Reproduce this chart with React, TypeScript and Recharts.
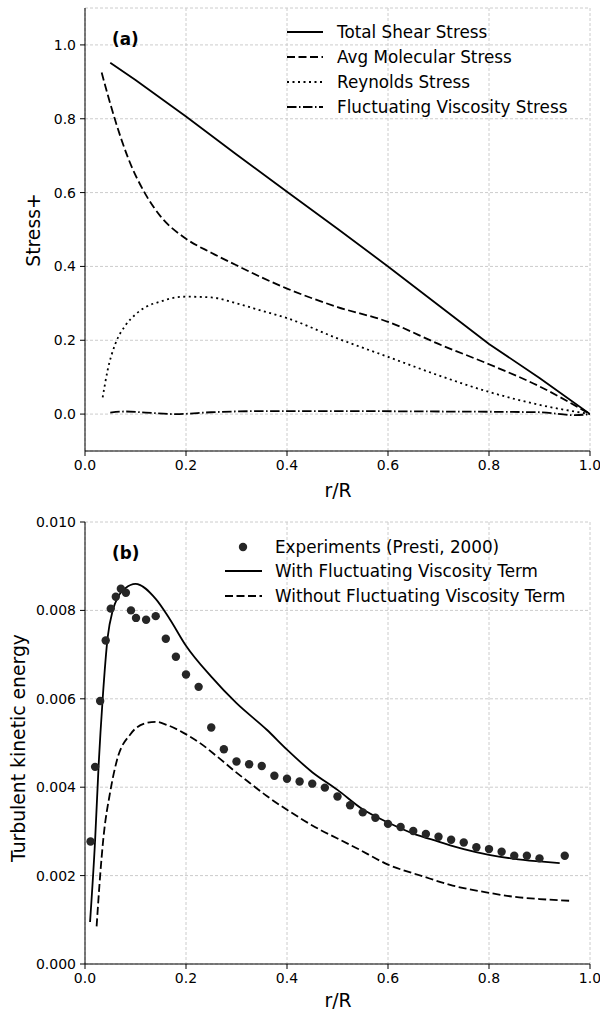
import React from 'react';
import { ComposedChart, Line, Scatter, XAxis, YAxis, CartesianGrid, Legend } from 'recharts';

const FONT = '"DejaVu Sans", sans-serif';

// panel (a): stress profiles
const shearR = [0.05, 0.1, 0.2, 0.3, 0.4, 0.5, 0.6, 0.7, 0.8, 0.9, 1.0];
const shearVals = [0.952, 0.905, 0.806, 0.703, 0.602, 0.502, 0.4, 0.295, 0.19, 0.098, 0.0];

const molR = [0.033, 0.045, 0.06, 0.085, 0.12, 0.15, 0.2, 0.25, 0.3, 0.35, 0.4, 0.5, 0.6, 0.7, 0.8, 0.9, 1.0];
const molVals = [0.925, 0.865, 0.795, 0.695, 0.595, 0.535, 0.475, 0.437, 0.403, 0.37, 0.34, 0.29, 0.25, 0.19, 0.135, 0.075, 0.0];

const reyR = [0.035, 0.045, 0.06, 0.08, 0.1, 0.12, 0.15, 0.18, 0.2, 0.25, 0.3, 0.35, 0.4, 0.5, 0.6, 0.7, 0.8, 0.9, 1.0];
const reyVals = [0.045, 0.12, 0.19, 0.24, 0.27, 0.29, 0.305, 0.316, 0.318, 0.316, 0.3, 0.28, 0.26, 0.205, 0.155, 0.105, 0.06, 0.025, 0.0];

const fvR = [0.05, 0.08, 0.12, 0.18, 0.25, 0.35, 0.5, 0.7, 0.9, 0.97, 1.0];
const fvVals = [0.004, 0.007, 0.004, 0.0, 0.005, 0.008, 0.008, 0.007, 0.005, -0.003, 0.0];

// panel (b): turbulent kinetic energy
const expR = [0.011, 0.02, 0.03, 0.041, 0.051, 0.061, 0.071, 0.081, 0.091, 0.101, 0.121, 0.14, 0.16, 0.18, 0.2,
  0.225, 0.25, 0.275, 0.3, 0.325, 0.35, 0.375, 0.4, 0.425, 0.45, 0.475, 0.5, 0.525, 0.55, 0.575, 0.6,
  0.625, 0.65, 0.675, 0.7, 0.725, 0.75, 0.775, 0.8, 0.825, 0.85, 0.875, 0.9, 0.95];
const expK = [0.00277, 0.00446, 0.00595, 0.00732, 0.00804, 0.00831, 0.00849, 0.0084, 0.008, 0.00783, 0.00779, 0.00787, 0.00736, 0.00695, 0.00655,
  0.00627, 0.00535, 0.00486, 0.00458, 0.00452, 0.00448, 0.00426, 0.00419, 0.00413, 0.00408, 0.00399, 0.00379, 0.00359, 0.00343, 0.00331, 0.00317,
  0.0031, 0.00301, 0.00294, 0.00288, 0.00281, 0.00275, 0.00264, 0.0026, 0.00254, 0.00245, 0.00245, 0.00239, 0.00245];

const withR = [0.01, 0.02, 0.027, 0.035, 0.045, 0.055, 0.065, 0.08, 0.1, 0.14, 0.168, 0.2, 0.25, 0.3, 0.36, 0.4, 0.45, 0.5, 0.55, 0.6, 0.65, 0.7, 0.75, 0.8, 0.85, 0.9, 0.94];
const withK = [0.00095, 0.0028, 0.0045, 0.006, 0.0074, 0.008, 0.0083, 0.0085, 0.0086, 0.00826, 0.0078, 0.0072, 0.0065, 0.0059, 0.0053, 0.00485, 0.00434, 0.00394, 0.0035, 0.0032, 0.00295, 0.00277, 0.0026, 0.00247, 0.00238, 0.00232, 0.00228];

const woR = [0.023, 0.03, 0.036, 0.05, 0.063, 0.09, 0.12, 0.14, 0.162, 0.195, 0.23, 0.261, 0.3, 0.327, 0.36, 0.4, 0.465, 0.5, 0.538, 0.6, 0.67, 0.723, 0.8, 0.85, 0.9, 0.96];
const woK = [0.00085, 0.002, 0.0028, 0.0039, 0.0046, 0.0052, 0.00545, 0.00548, 0.00541, 0.00523, 0.00498, 0.0047, 0.00433, 0.00409, 0.0038, 0.00349, 0.00304, 0.00284, 0.00262, 0.00225, 0.00198, 0.00179, 0.00161, 0.00152, 0.00147, 0.00143];

const xTicks = [0, 0.2, 0.4, 0.6, 0.8, 1.0];
const stressTicks = [0, 0.2, 0.4, 0.6, 0.8, 1.0];
const tkeTicks = [0, 0.002, 0.004, 0.006, 0.008, 0.01];

const toPts = (xs: number[], ys: number[]) => xs.map((x, i) => ({ x, y: ys[i] }));

const tickStyle = { fill: '#000', fontSize: 14, fontFamily: FONT };
const labelStyle = { fontSize: 18.8, fontFamily: FONT, fill: '#000' };
const LEG = 16.8;

const DASH = '8 3.5';
const DOT = '2 3.5';
const DASHDOT = '9.5 2.5 1.5 2.5';

const xLabel = () => (
  <text x={338} y={490} textAnchor="middle" dominantBaseline="central" style={labelStyle}>r/R</text>
);
const yLabel = (text: string, cx: number, cy: number) => () => (
  <text x={cx} y={cy} transform={`rotate(-90 ${cx} ${cy})`} textAnchor="middle" dominantBaseline="central" style={labelStyle}>
    {text}
  </text>
);

const LegendA = () => (
  <svg width={500} height={110} style={{ fontFamily: FONT, display: 'block' }}>
    <text x={12} y={24} fontWeight="bold" fontSize={LEG} dominantBaseline="central">(a)</text>
    {[
      ['Total Shear Stress', undefined],
      ['Avg Molecular Stress', DASH],
      ['Reynolds Stress', DOT],
      ['Fluctuating Viscosity Stress', DASHDOT],
    ].map(([name, dash], i) => (
      <g key={i}>
        <line x1={187} x2={223} y1={17 + i * 25} y2={17 + i * 25} stroke="#000" strokeWidth={1.8} strokeDasharray={dash} />
        <text x={237} y={17 + i * 25} fontSize={LEG} dominantBaseline="central">{name}</text>
      </g>
    ))}
  </svg>
);

const LegendB = () => (
  <svg width={500} height={90} style={{ fontFamily: FONT, display: 'block' }}>
    <text x={12} y={23} fontWeight="bold" fontSize={LEG} dominantBaseline="central">(b)</text>
    <circle cx={143} cy={17} r={4.2} fill="#262626" />
    <text x={175} y={17} fontSize={LEG} dominantBaseline="central">Experiments (Presti, 2000)</text>
    <line x1={125} x2={162} y1={41} y2={41} stroke="#000" strokeWidth={1.8} />
    <text x={175} y={41} fontSize={LEG} dominantBaseline="central">With Fluctuating Viscosity Term</text>
    <line x1={125} x2={162} y1={66} y2={66} stroke="#000" strokeWidth={1.8} strokeDasharray={DASH} />
    <text x={175} y={66} fontSize={LEG} dominantBaseline="central">Without Fluctuating Viscosity Term</text>
  </svg>
);

const Dot = (props: any) => <circle cx={props.cx} cy={props.cy} r={4.2} fill="#262626" />;

const frameAxes = (dom: number[]) => [
  <XAxis key="xt" xAxisId="top" orientation="top" type="number" domain={[0, 1]} tick={false} tickLine={false} height={0} axisLine={{ stroke: '#000' }} />,
  <YAxis key="yr" yAxisId="right" orientation="right" type="number" domain={dom} tick={false} tickLine={false} width={0} axisLine={{ stroke: '#000' }} />,
];

export default function App() {
  return (
    <div style={{ position: 'absolute', left: 0, top: 0, width: 600, height: 1015, background: '#fff' }}>
      <div style={{ position: 'absolute', left: 0, top: 0 }}>
        <ComposedChart width={600} height={500} margin={{ top: 8, right: 10, left: 0, bottom: 19 }}>
          <CartesianGrid stroke="#cccccc" strokeDasharray="3 2" />
          <XAxis dataKey="x" type="number" domain={[0, 1]} ticks={xTicks} tickFormatter={(v: number) => v.toFixed(1)}
            tick={tickStyle} tickSize={5} tickMargin={4} height={30} axisLine={{ stroke: '#000' }} tickLine={{ stroke: '#000' }}
            allowDataOverflow label={xLabel} />
          <YAxis dataKey="y" type="number" domain={[-0.1, 1.1]} ticks={stressTicks} tickFormatter={(v: number) => v.toFixed(1)}
            tick={tickStyle} tickSize={5} tickMargin={4} width={85} axisLine={{ stroke: '#000' }} tickLine={{ stroke: '#000' }}
            allowDataOverflow label={yLabel('Stress+', 33, 230)} />
          {frameAxes([-0.1, 1.1])}
          <Line data={toPts(shearR, shearVals)} dataKey="y" type="linear" stroke="#000" strokeWidth={1.8} dot={false} isAnimationActive={false} />
          <Line data={toPts(molR, molVals)} dataKey="y" type="monotone" stroke="#000" strokeWidth={1.8} strokeDasharray={DASH} dot={false} isAnimationActive={false} />
          <Line data={toPts(reyR, reyVals)} dataKey="y" type="monotone" stroke="#000" strokeWidth={1.8} strokeDasharray={DOT} dot={false} isAnimationActive={false} />
          <Line data={toPts(fvR, fvVals)} dataKey="y" type="monotone" stroke="#000" strokeWidth={1.8} strokeDasharray={DASHDOT} dot={false} isAnimationActive={false} />
          <Legend layout="vertical" align="center" verticalAlign="middle" content={LegendA}
            wrapperStyle={{ position: 'absolute', left: 100, top: 15, width: 500, height: 110 }} />
        </ComposedChart>
      </div>
      <div style={{ position: 'absolute', left: 0, top: 510 }}>
        <ComposedChart width={600} height={505} margin={{ top: 12, right: 10, left: 0, bottom: 21 }}>
          <CartesianGrid stroke="#cccccc" strokeDasharray="3 2" />
          <XAxis dataKey="x" type="number" domain={[0, 1]} ticks={xTicks} tickFormatter={(v: number) => v.toFixed(1)}
            tick={tickStyle} tickSize={5} tickMargin={4} height={30} axisLine={{ stroke: '#000' }} tickLine={{ stroke: '#000' }}
            allowDataOverflow label={xLabel} />
          <YAxis dataKey="y" type="number" domain={[0, 0.01]} ticks={tkeTicks} tickFormatter={(v: number) => v.toFixed(3)}
            tick={tickStyle} tickSize={5} tickMargin={4} width={85} axisLine={{ stroke: '#000' }} tickLine={{ stroke: '#000' }}
            allowDataOverflow label={yLabel('Turbulent kinetic energy', 18, 238)} />
          {frameAxes([0, 0.01])}
          <Scatter data={toPts(expR, expK)} dataKey="y" shape={Dot} isAnimationActive={false} />
          <Line data={toPts(withR, withK)} dataKey="y" type="monotone" stroke="#000" strokeWidth={1.8} dot={false} isAnimationActive={false} />
          <Line data={toPts(woR, woK)} dataKey="y" type="monotone" stroke="#000" strokeWidth={1.8} strokeDasharray={DASH} dot={false} isAnimationActive={false} />
          <Legend layout="vertical" align="center" verticalAlign="middle" content={LegendB}
            wrapperStyle={{ position: 'absolute', left: 100, top: 20, width: 500, height: 90 }} />
        </ComposedChart>
      </div>
    </div>
  );
}
